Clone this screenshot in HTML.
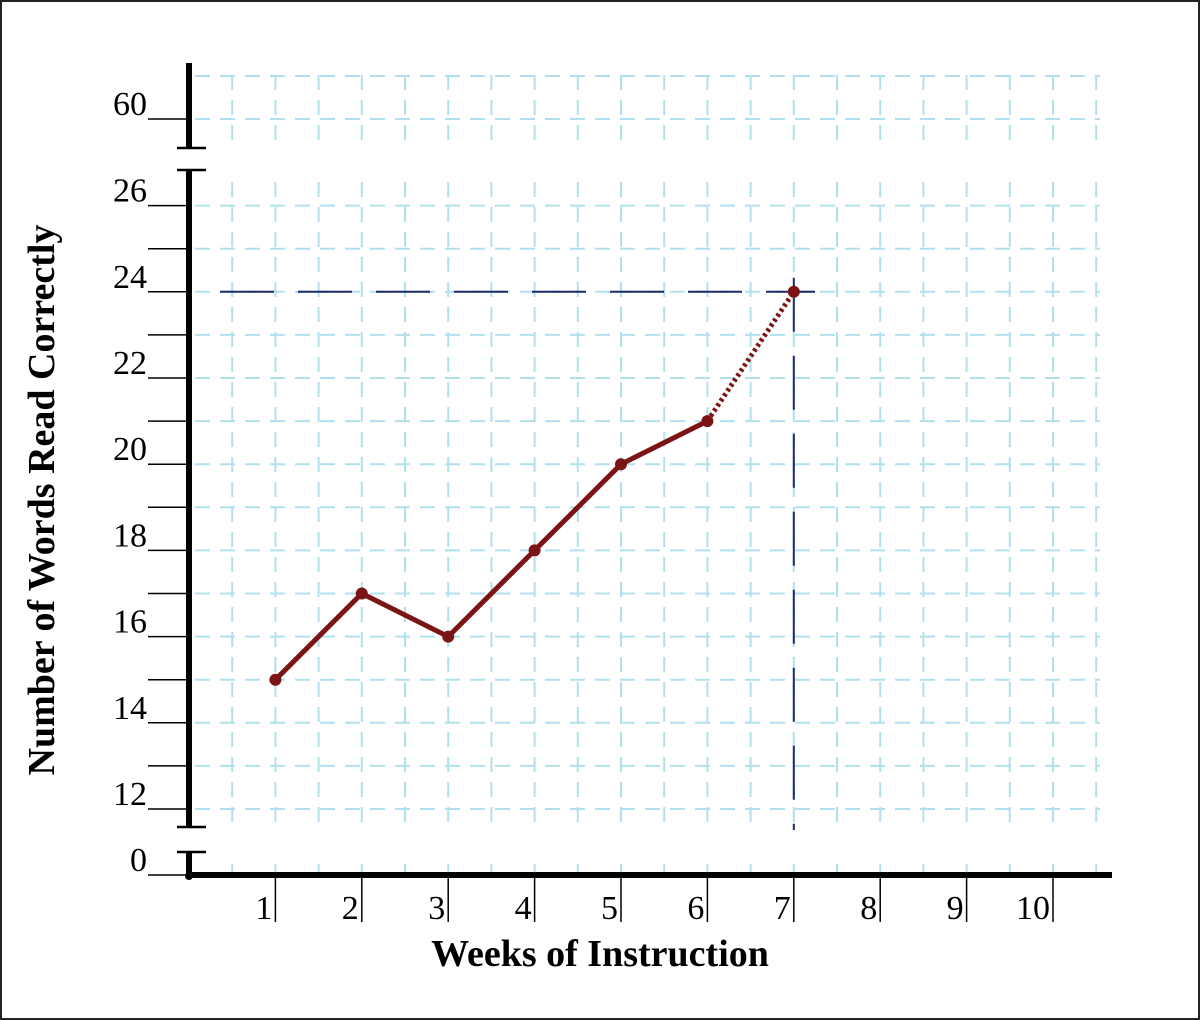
<!DOCTYPE html>
<html><head><meta charset="utf-8"><style>
body{margin:0;background:#fff}
svg{display:block;font-family:"Liberation Serif",serif}
</style></head><body>
<svg id="c" width="1200" height="1020">
<rect x="1" y="1" width="1198" height="1018" fill="#fff" stroke="#222" stroke-width="2"/>
<g id="grid"></g>
<g id="axes"></g>
<g id="marks"></g>
<text x="600" y="966" text-anchor="middle" font-size="38" font-weight="bold">Weeks of Instruction</text>
<text transform="translate(54,500) rotate(-90)" text-anchor="middle" font-size="38" font-weight="bold">Number of Words Read Correctly</text>
</svg>
<script>
const weeks=[1,2,3,4,5,6];
const scores=[15,17,16,18,20,21];
const goalWeek=7;
const goalScore=24;
const xTicks=[1,2,3,4,5,6,7,8,9,10];
const yTicks=[12,14,16,18,20,22,24,26];
const NS="http://www.w3.org/2000/svg";
const X0=189,XS=86.4,Y12=809,YS=43.1;
const xs=w=>X0+XS*w;
const ys=v=>Y12-(v-12)*YS;
function mk(p,tag,a){const e=document.createElementNS(NS,tag);for(const k in a)e.setAttribute(k,a[k]);p.appendChild(e);return e;}
const G=document.getElementById('grid'),A=document.getElementById('axes'),M=document.getElementById('marks');
const gs={stroke:'#b0e0ee','stroke-width':2,'stroke-dasharray':'15 10',fill:'none'};
for(let i=1;i<=21;i++){const x=X0+XS/2*i;if(x>1100)break;
 [[63,148],[170,827],[852,873]].forEach(s=>{const l=mk(G,'line',Object.assign({x1:x,x2:x,y1:s[0]+12,y2:s[1]},gs));
 
 });}
const hy=[76,119];for(let v=12;v<=26;v++)hy.push(ys(v));
hy.forEach(y=>{const l=mk(G,'line',Object.assign({x1:195,x2:1100,y1:y,y2:y},gs));
 
 });
[[63,148],[170,827],[852,875]].forEach(s=>{const l=mk(A,'line',{x1:X0,x2:X0,y1:s[0],y2:s[1],stroke:'#000','stroke-width':6});
 
 });
[148,170,827,852].forEach(y=>{const l=mk(A,'line',{x1:177,x2:206,y1:y,y2:y,stroke:'#000','stroke-width':2.5});
 
 });
const xa=mk(A,'line',{x1:X0,x2:1112,y1:875,y2:875,stroke:'#000','stroke-width':6});


const dot=mk(A,'circle',{cx:X0,cy:876,r:4,fill:'#000'});


for(let v=12;v<=26;v++){const t=mk(A,'line',{x1:148,x2:X0,y1:ys(v),y2:ys(v),stroke:'#000','stroke-width':1.5});
 
 }
yTicks.forEach(v=>{const t=mk(A,'text',{x:147,y:ys(v)-4,'text-anchor':'end','font-size':34});t.textContent=v;
 
 });
[[119,'60'],[875,'0']].forEach(p=>{const t=mk(A,'line',{x1:148,x2:X0,y1:p[0],y2:p[0],stroke:'#000','stroke-width':1.5});
 
 
 const s=mk(A,'text',{x:147,y:p[0]-4,'text-anchor':'end','font-size':34});s.textContent=p[1];
 
 });
xTicks.forEach(w=>{const t=mk(A,'line',{x1:xs(w),x2:xs(w),y1:875,y2:922,stroke:'#000','stroke-width':1.5});
 
 
 const s=mk(A,'text',{x:xs(w)-3,y:919,'text-anchor':'end','font-size':34});s.textContent=w;
 
 });
const gh=mk(M,'line',{x1:220,x2:815,y1:ys(goalScore),y2:ys(goalScore),stroke:'#1c2a6b','stroke-width':2,'stroke-dasharray':'54 24'});


const gv=mk(M,'line',{x1:xs(goalWeek),x2:xs(goalWeek),y1:ys(goalScore)-14,y2:830,stroke:'#1c2a6b','stroke-width':2,'stroke-dasharray':'54 24'});


const pl=mk(M,'polyline',{points:weeks.map((w,i)=>xs(w)+','+ys(scores[i])).join(' '),fill:'none',stroke:'#7b1414','stroke-width':5,'stroke-linejoin':'round'});


const li=weeks.length-1;
const dl=mk(M,'line',{x1:xs(weeks[li]),y1:ys(scores[li]),x2:xs(goalWeek),y2:ys(goalScore),stroke:'#7b1414','stroke-width':5,'stroke-dasharray':'3 3'});


weeks.forEach((w,i)=>{const c=mk(M,'circle',{cx:xs(w),cy:ys(scores[i]),r:6,fill:'#7b1414'});
 
 });
const gc=mk(M,'circle',{cx:xs(goalWeek),cy:ys(goalScore),r:6,fill:'#7b1414'});


</script>
</body></html>
